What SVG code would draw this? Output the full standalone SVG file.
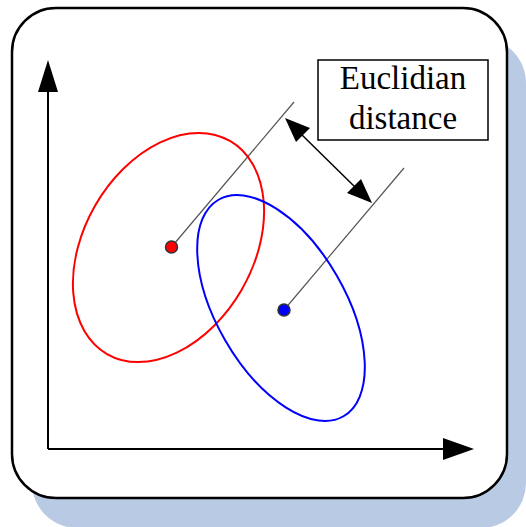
<svg xmlns="http://www.w3.org/2000/svg" width="526" height="527" viewBox="0 0 526 527">
<style>
.axis{stroke:#000;stroke-width:2;fill:none}
.guide{stroke:#555;stroke-width:1.2;fill:none}
.lbl{font-family:"Liberation Serif","Times New Roman",serif;font-size:33px;fill:#000;text-anchor:middle}
</style>
<g id="frame">
<rect x="32" y="38" width="494" height="490" rx="45" fill="#b9cbe4"/>
<rect x="12" y="8" width="495" height="490" rx="44" fill="#fff" stroke="#000" stroke-width="2.5"/>
</g>
<g id="connectors">
<path class="axis" d="M48,449 V90"/>
<path d="M48,60 L58,92 L38,92 z" fill="#000"/>
<path class="axis" d="M48,449 H445"/>
<path d="M474,449 L443,438 L443,460 z" fill="#000"/>
<line class="guide" x1="171.5" y1="247" x2="294" y2="102"/>
<line class="guide" x1="284" y1="310" x2="404" y2="168"/>
<line x1="300" y1="133" x2="357" y2="189" stroke="#000" stroke-width="1.5"/>
<path d="M285,118 L310,128 L296,142 z" fill="#000"/>
<path d="M372,203 L347,193 L361,179 z" fill="#000"/>
</g>
<g id="red-cluster">
<ellipse cx="168.5" cy="247.5" rx="123" ry="84.5" transform="rotate(-60 168.5 247.5)" fill="none" stroke="#f00" stroke-width="2"/>
<circle cx="171.5" cy="247" r="6" fill="#f00" stroke="#333" stroke-width="1.5"/>
</g>
<g id="blue-cluster">
<ellipse cx="281" cy="308" rx="125" ry="64.5" transform="rotate(60 281 308)" fill="none" stroke="#00f" stroke-width="2"/>
<circle cx="284" cy="310" r="6" fill="#00f" stroke="#333" stroke-width="1.5"/>
</g>
<g id="label">
<rect x="318" y="60" width="170" height="80" fill="#fff" stroke="#000" stroke-width="1.5"/>
<text class="lbl" x="403" y="89">Euclidian</text>
<text class="lbl" x="403" y="129">distance</text>
</g>
</svg>
